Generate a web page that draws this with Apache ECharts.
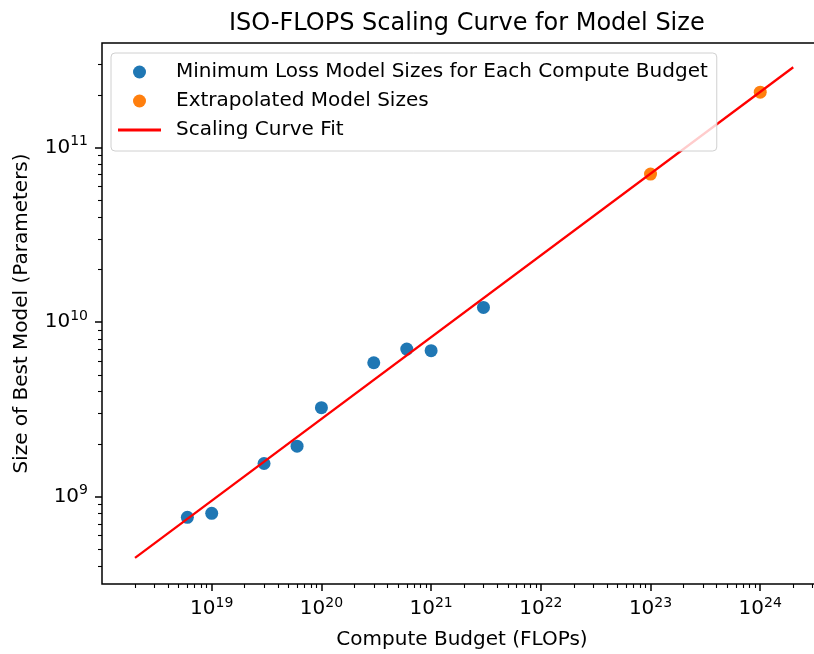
<!DOCTYPE html>
<html>
<head>
<meta charset="utf-8">
<script src="https://cdn.jsdelivr.net/npm/echarts@6/dist/echarts.min.js"></script>
<style>html,body{margin:0;padding:0;background:#fff}#c{width:814px;height:654px}</style>
</head>
<body>
<div id="c"></div>
<script>
// Observed minimum-loss points
const computeBudget = [6e18, 1e19, 3e19, 6e19, 1e20, 3e20, 6e20, 1e21, 3e21];
const modelSize = [7.62e8, 8.03e8, 1.55e9, 1.95e9, 3.24e9, 5.86e9, 7.02e9, 6.87e9, 1.216e10];
// Extrapolated points
const extraBudget = [1e23, 1e24];
const extraSize = [7.06e10, 2.08e11];
// Scaling curve fit endpoints
const fitBudget = [2e18, 2e24];
const fitSize = [4.46e8, 2.89e11];
// Tick values
const xMajorTicks = [1e19, 1e20, 1e21, 1e22, 1e23, 1e24];
const yMajorTicks = [1e9, 1e10, 1e11];

const X_MIN = 1e18, X_MAX = Math.pow(10, 24.563);
const Y_MIN = Math.pow(10, 8.5), Y_MAX = Math.pow(10, 11.6);

function minorTicks(lo, hi) {
  const out = [];
  for (let e = Math.floor(Math.log10(lo)); e <= Math.ceil(Math.log10(hi)); e++) {
    for (let m = 2; m <= 9; m++) {
      const v = m * Math.pow(10, e);
      if (v >= lo && v <= hi) out.push(v);
    }
  }
  return out;
}
const xMinorTicks = minorTicks(X_MIN, X_MAX);
const yMinorTicks = minorTicks(Y_MIN, Y_MAX);

const FONT = 'DejaVu Sans';
function pow10Label(v) {
  const e = v < 100 ? Math.round(v) : Math.round(Math.log10(v));
  return '{b|10}{s|' + e + '}';
}
const richLbl = {
  b: {fontSize: 20, fontFamily: FONT, color: '#000'},
  s: {fontSize: 14, fontFamily: FONT, color: '#000', padding: [0, 0, 12, 0]}
};

const zip = (a, b) => a.map((v, i) => [v, b[i]]);
const chart = echarts.init(document.getElementById('c'), null, {renderer: 'canvas'});

const S1 = 'Minimum Loss Model Sizes for Each Compute Budget';
const S2 = 'Extrapolated Model Sizes';
const S3 = 'Scaling Curve Fit';

chart.setOption({
  animation: false,
  backgroundColor: '#fff',
  title: {
    text: 'ISO-FLOPS Scaling Curve for Model Size',
    left: 224, top: 7,
    textStyle: {fontFamily: FONT, fontSize: 24, fontWeight: 'normal', color: '#000'}
  },
  legend: {
    orient: 'vertical',
    left: 111, top: 53,
    padding: [9, 9, 11, 7],
    itemWidth: 43, itemHeight: 13, itemGap: 9,
    borderColor: '#d0d0d0', borderWidth: 1, borderRadius: 4,
    backgroundColor: 'rgba(255,255,255,0.8)',
    textStyle: {fontFamily: FONT, fontSize: 20, color: '#000', lineHeight: 20, padding: [0, 0, 0, 10]},
    data: [
      {name: S1, icon: 'circle'},
      {name: S2, icon: 'circle'},
      {name: S3, icon: 'path://M0,0L43,0L43,3L0,3Z'}
    ]
  },
  grid: {
    left: 102, top: 43, width: 720, height: 541,
    outerBoundsMode: 'none', containLabel: false,
    show: true, borderColor: '#000', borderWidth: 1.5, backgroundColor: 'transparent'
  },
  xAxis: [{
    type: 'log', min: X_MIN, max: X_MAX, gridIndex: 0, position: 'bottom',
    name: 'Compute Budget (FLOPs)', nameLocation: 'middle', nameGap: 46,
    nameTextStyle: {fontFamily: FONT, fontSize: 20, color: '#000'},
    axisLine: {show: false},
    axisTick: {show: true, inside: false, length: 7, customValues: xMajorTicks, lineStyle: {color: '#000', width: 1.5}},
    axisLabel: {customValues: xMajorTicks, formatter: pow10Label, rich: richLbl, margin: 12},
    splitLine: {show: false}, minorTick: {show: false}
  }, {
    type: 'log', min: X_MIN, max: X_MAX, gridIndex: 0, position: 'bottom',
    axisLine: {show: false},
    axisTick: {show: true, inside: false, length: 4, customValues: xMinorTicks, lineStyle: {color: '#000', width: 1.1}},
    axisLabel: {show: false}, splitLine: {show: false}
  }],
  yAxis: [{
    type: 'log', min: Y_MIN, max: Y_MAX, gridIndex: 0, position: 'left',
    name: 'Size of Best Model (Parameters)', nameLocation: 'middle', nameGap: 70,
    nameTextStyle: {fontFamily: FONT, fontSize: 20, color: '#000'},
    axisLine: {show: false},
    axisTick: {show: true, inside: false, length: 7, customValues: yMajorTicks, lineStyle: {color: '#000', width: 1.5}},
    axisLabel: {customValues: yMajorTicks, formatter: pow10Label, rich: richLbl, margin: 14},
    splitLine: {show: false}
  }, {
    type: 'log', min: Y_MIN, max: Y_MAX, gridIndex: 0, position: 'left',
    axisLine: {show: false},
    axisTick: {show: true, inside: false, length: 4, customValues: yMinorTicks, lineStyle: {color: '#000', width: 1.1}},
    axisLabel: {show: false}, splitLine: {show: false}
  }],
  series: [{
    name: S1, type: 'scatter', xAxisIndex: 0, yAxisIndex: 0,
    data: zip(computeBudget, modelSize), symbolSize: 13,
    itemStyle: {color: '#1f77b4', opacity: 1}, z: 2
  }, {
    name: S2, type: 'scatter', xAxisIndex: 0, yAxisIndex: 0,
    data: zip(extraBudget, extraSize), symbolSize: 13,
    itemStyle: {color: '#ff7f0e', opacity: 1}, z: 2
  }, {
    name: S3, type: 'line', xAxisIndex: 0, yAxisIndex: 0,
    data: zip(fitBudget, fitSize), symbol: 'none', showSymbol: false,
    lineStyle: {color: '#ff0000', width: 2.3}, itemStyle: {color: '#ff0000'}, z: 3
  }]
});
</script>
</body>
</html>
